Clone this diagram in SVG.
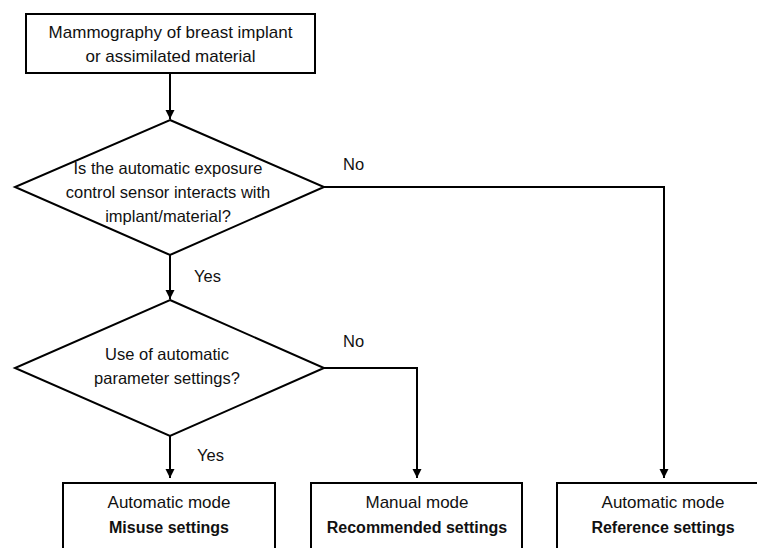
<svg xmlns="http://www.w3.org/2000/svg" width="757" height="548" viewBox="0 0 757 548">
<style>
.shape{fill:#fff;stroke:#000;stroke-width:2}
.conn{fill:none;stroke:#000;stroke-width:2}
text{font-family:"Liberation Sans",Arial,sans-serif;fill:#111;text-anchor:middle}
.t17{font-size:17px}
.t16{font-size:16.5px}
.b{font-size:16px;font-weight:bold}
.lbl{font-size:16.5px;text-anchor:start}
</style>
<defs>
<marker id="arr" markerWidth="10" markerHeight="10" refX="9" refY="5" orient="auto" markerUnits="userSpaceOnUse">
<path d="M0,0.5 L9,5 L0,9.5 Z" fill="#000"/>
</marker>
</defs>
<rect width="757" height="548" fill="#fff"/>
<g id="connectors">
<line class="conn" x1="170" y1="74" x2="170" y2="119" marker-end="url(#arr)"/>
<line class="conn" x1="170" y1="255" x2="170" y2="299" marker-end="url(#arr)"/>
<line class="conn" x1="170" y1="436" x2="170" y2="478" marker-end="url(#arr)"/>
<polyline class="conn" points="324,368 417,368 417,478" marker-end="url(#arr)"/>
<polyline class="conn" points="324,187 664,187 664,478" marker-end="url(#arr)"/>
<text class="lbl" x="343" y="170">No</text>
<text class="lbl" x="194" y="282">Yes</text>
<text class="lbl" x="343" y="347">No</text>
<text class="lbl" x="197" y="461">Yes</text>
</g>
<g id="start">
<rect class="shape" x="26" y="14" width="289" height="59"/>
<text class="t17" x="170.5" y="38">Mammography of breast implant</text>
<text class="t17" x="170.5" y="62">or assimilated material</text>
</g>
<g id="decision1">
<polygon class="shape" points="170,120 324,187 170,255 15,187"/>
<text class="t16" x="168" y="174">Is the automatic exposure</text>
<text class="t16" x="168" y="198">control sensor interacts with</text>
<text class="t16" x="168" y="222">implant/material?</text>
</g>
<g id="decision2">
<polygon class="shape" points="170,300 324,368 170,436 15,368"/>
<text class="t16" x="167" y="360">Use of automatic</text>
<text class="t16" x="167" y="384">parameter settings?</text>
</g>
<g id="misuse">
<rect class="shape" x="63" y="483" width="212" height="80"/>
<text class="t17" x="169" y="508">Automatic mode</text>
<text class="b" x="169" y="533">Misuse settings</text>
</g>
<g id="recommended">
<rect class="shape" x="311" y="483" width="211" height="80"/>
<text class="t17" x="417" y="508">Manual mode</text>
<text class="b" x="417" y="533">Recommended settings</text>
</g>
<g id="reference">
<rect class="shape" x="557" y="483" width="212" height="80"/>
<text class="t17" x="663" y="508">Automatic mode</text>
<text class="b" x="663" y="533">Reference settings</text>
</g>
</svg>
